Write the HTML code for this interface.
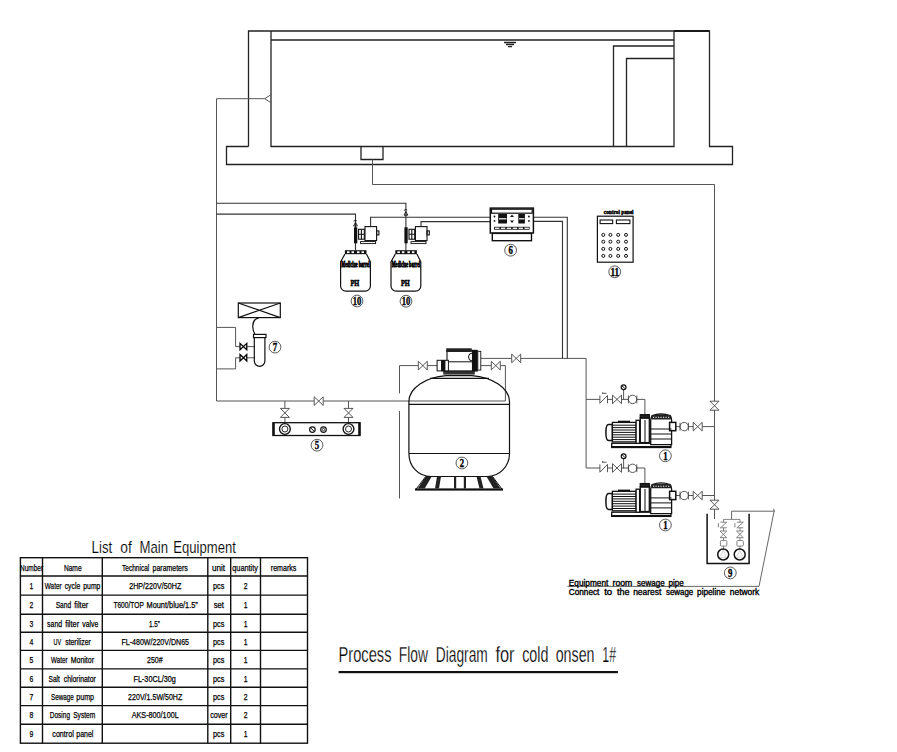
<!DOCTYPE html>
<html><head><meta charset="utf-8">
<style>
html,body{margin:0;padding:0;background:#fff;}
body{width:897px;height:752px;overflow:hidden;}
svg{display:block;}
text{font-family:"Liberation Sans",sans-serif;}
.ser, .ser text{font-family:"Liberation Serif",serif;font-weight:bold;}
</style></head>
<body>
<svg width="897" height="752" viewBox="0 0 897 752">
<defs>
  <path id="vh" d="M-4.5 -4.3L4.5 4.3V-4.3L-4.5 4.3Z"/>
  <path id="vv" d="M-4.5 -4.5H4.5L-4.5 4.5H4.5Z"/>
</defs>
<rect width="897" height="752" fill="#fff"/>

<!-- POOL -->
<g fill="none" stroke="#222" stroke-width="1.3">
  <path d="M674 31H709.5" stroke="#000" stroke-width="1.8"/>
  <path d="M248.5 146.5V31H709.5V146.5H732.5V164.5H226.5V146.5H248.5"/>
  <path d="M271 31V146.5H674V31"/>
  <path d="M271 40H674"/>
  <path d="M613.5 146.5V46H674M626.5 146.5V58.5H674"/>
  <path d="M361 146.5V159.5H383V146.5"/>
  <path d="M504 42.5H516M506 44.5H514M508 46.6H512"/>
</g>

<!-- PIPES thin -->
<g fill="none" stroke="#555" stroke-width="1">
  <path d="M271 94.7L264.7 98.7L271 102.7"/>
  <path d="M264.7 98.7H216.5V401H314.3M323.2 401H505.4V365.6H500.4M491.3 365.6H480.8"/>
  <path d="M372.5 159.5V184.5H714.5V401.4M714.5 410V500.3M714.5 509V519"/>
  <!-- filter left waste line -->
  <path d="M437 365.6H427.4M418.3 365.6H399.5V393.4M399.5 411V498.5"/>
  <!-- filter top outlet -->
  <path d="M480.8 358.4H511.7M520.7 358.4H586.1V468"/>
  <!-- UV branches -->
  <path d="M216.5 327.4H235.6V346.6H239.9M246.8 346.6H254.3"/>
  <path d="M216.5 368.9H235.6V357.8H239.9M246.8 357.8H254.3"/>
  <!-- chlorinator branches -->
  <path d="M284.9 401V408.4M284.9 417.3V422.7M348.5 401V408.4M348.5 417.3V422.7"/>
  <!-- pump branches -->
  <path d="M586.1 399.4H599.9M607.5 399.4H612.4M621.5 399.4H628.4M636.8 399.4H644.9V414.7"/>
  <path d="M586.1 468H599.9M607.5 468H612.4M621.5 468H628.4M636.8 468H644.9V483.3"/>
  <path d="M675.8 426.6H680M688.4 426.6H693.2M702.3 426.6H714.5"/>
  <path d="M675.8 495.5H680M688.4 495.5H693.2M702.3 495.5H714.5"/>
</g>
<!-- double lines (dosing) -->
<g fill="none" stroke="#333" stroke-width="1.1">
  <path d="M216.5 203.2H405.9V250.2"/>
  <path d="M216.5 214.1H355.5V250.2"/>
  <path d="M370.6 226.6V217.2H490.3M533.4 217.2H567.3V358.4"/>
  <path d="M421 226.6V221.6H490.3M533.4 221.4H562.5V358.4"/>
</g>

<!-- valves -->
<g fill="#fff" stroke="#444" stroke-width="0.9">
  <use href="#vh" x="318.7" y="401.1"/>
  <use href="#vv" x="284.9" y="412.9"/>
  <use href="#vv" x="348.5" y="412.9"/>
  <use href="#vh" x="422.8" y="365.6"/>
  <use href="#vh" x="495.8" y="365.6"/>
  <use href="#vh" x="516.2" y="358.4"/>
  <use href="#vv" x="714.5" y="405.7"/>
  <use href="#vv" x="714.5" y="504.7"/>
  <use href="#vh" x="617" y="399.4"/>
  <use href="#vh" x="617" y="468"/>
  <use href="#vh" x="697.7" y="426.6"/>
  <use href="#vh" x="697.7" y="495.5"/>
</g>
<g fill="#fff" stroke="#000" stroke-width="1.7">
  <use href="#vh" x="243.4" y="346.6" transform="translate(243.4 346.6) scale(0.75) translate(-243.4 -346.6)"/>
  <use href="#vh" x="243.4" y="357.8" transform="translate(243.4 357.8) scale(0.75) translate(-243.4 -357.8)"/>
</g>


<!-- DOSING TANKS -->
<g id="dose1">
  <g fill="none" stroke="#111" stroke-width="1.2">
    <path d="M344.9 254.1L340.6 261.8V286A5.2 5.2 0 0 0 345.8 291.2H365.2A5.2 5.2 0 0 0 370.4 286V261.8L366.5 254.1"/>
  </g>
  <rect x="344.9" y="250.2" width="21.6" height="4" fill="#111"/>
  <g fill="#fff"><rect x="347" y="251.3" width="2.5" height="1.8"/><rect x="351.5" y="251.3" width="2.5" height="1.8"/><rect x="357" y="251.3" width="2.5" height="1.8"/><rect x="361.5" y="251.3" width="2.5" height="1.8"/></g>
  <text x="355.5" y="266.8" font-size="8.5" font-weight="bold" text-anchor="middle" textLength="28.5" lengthAdjust="spacingAndGlyphs" class="ser" stroke="#000" stroke-width="0.9">Medicine barrel</text>
  <text x="354.9" y="285.8" font-size="8" font-weight="bold" text-anchor="middle" class="ser" textLength="8.8" lengthAdjust="spacingAndGlyphs" stroke="#000" stroke-width="0.6">PH</text>
  <!-- pump -->
  <rect x="354" y="227.3" width="3.3" height="16" fill="#111"/>
    <g fill="none" stroke="#111" stroke-width="1.1">
    <rect x="358.6" y="229.3" width="5.7" height="9.9"/>
    <path d="M361.4 229.3V239.2M358.6 234.2H364.3"/>
    <rect x="365" y="226.6" width="11.6" height="14"/>
    <rect x="376.6" y="230.9" width="2.3" height="4"/>
    <path d="M360.6 242.2H375.6"/>
  </g>
  <rect x="360.6" y="241.6" width="15" height="2" fill="#fff" stroke="#111" stroke-width="0.9"/>
</g>
<use href="#dose1" transform="translate(50.4 0)"/>
<g fill="none" stroke="#111" stroke-width="0.9">
  <path d="M353.6 226H357.4L355.5 222.3ZM354 221.5C353.6 220.5 354.8 219.8 356.8 220.8"/>
  <path d="M404 215.2H407.8L405.9 211.5ZM404.4 210.7C404 209.7 405.2 209 407.2 210"/>
</g>

<!-- CONTROLLER 6 -->
<g>
  <rect x="490.3" y="208.1" width="43.1" height="24.9" fill="#fff" stroke="#111" stroke-width="1.5"/>
  <rect x="491.5" y="209.2" width="40.7" height="4" fill="#fff" stroke="#111" stroke-width="1.2"/>
  <rect x="498.2" y="214" width="8.8" height="9.5" fill="#111"/>
  <rect x="518.3" y="214" width="6.6" height="9.5" fill="#111"/>
  <g fill="#fff"><rect x="499" y="218.2" width="7.5" height="1.2"/><rect x="519" y="218.2" width="5.5" height="1.2"/></g>
  <path d="M512 214.5l-2 2.5h4zM512 223l-2 -2.5h4z" fill="#111"/>
  <g fill="#111"><circle cx="494.5" cy="216.5" r="0.9"/><circle cx="494.5" cy="220.9" r="0.9"/><circle cx="528.9" cy="216.5" r="0.9"/><circle cx="528.9" cy="220.9" r="0.9"/></g>
  <rect x="494.1" y="226.8" width="35.5" height="2.9" fill="#111"/>
  <g fill="#fff"><rect x="495" y="227.6" width="4.4" height="1.3"/><rect x="500.9" y="227.6" width="4.4" height="1.3"/><rect x="506.8" y="227.6" width="4.4" height="1.3"/><rect x="512.7" y="227.6" width="4.4" height="1.3"/><rect x="518.6" y="227.6" width="4.4" height="1.3"/><rect x="524.5" y="227.6" width="4.4" height="1.3"/></g>
  <rect x="492.3" y="233.4" width="39.2" height="7.3" fill="#fff" stroke="#111" stroke-width="1.4"/>
</g>

<!-- CONTROL PANEL 11 -->
<g>
  <text x="618.7" y="214" font-size="6.5" font-weight="bold" text-anchor="middle" textLength="29.8" lengthAdjust="spacingAndGlyphs" class="ser" stroke="#000" stroke-width="0.5">control panel</text>
  <rect x="597.4" y="216.2" width="35.7" height="46" fill="#fff" stroke="#111" stroke-width="1.2"/>
  <rect x="600.1" y="220" width="12.6" height="3.6" fill="none" stroke="#111" stroke-width="1.1"/>
  <rect x="616.4" y="220" width="13.5" height="3.6" fill="none" stroke="#111" stroke-width="1.1"/>
  <g fill="none" stroke="#111" stroke-width="1">
    <circle cx="603.3" cy="234.9" r="1.5"/><circle cx="610.4" cy="234.9" r="1.5"/><circle cx="618.2" cy="234.9" r="1.5"/><circle cx="626" cy="234.9" r="1.5"/>
    <circle cx="603.3" cy="241.7" r="1.5"/><circle cx="610.4" cy="241.7" r="1.5"/><circle cx="618.2" cy="241.7" r="1.5"/><circle cx="626" cy="241.7" r="1.5"/>
    <circle cx="603.3" cy="248.9" r="1.5"/><circle cx="610.4" cy="248.9" r="1.5"/><circle cx="618.2" cy="248.9" r="1.5"/><circle cx="626" cy="248.9" r="1.5"/>
    <circle cx="603.3" cy="255.9" r="1.5"/><circle cx="610.4" cy="255.9" r="1.5"/><circle cx="618.2" cy="255.9" r="1.5"/><circle cx="626" cy="255.9" r="1.5"/>
  </g>
</g>

<!-- UV STERILIZER 7 -->
<g fill="none" stroke="#111" stroke-width="1.2">
  <rect x="238.3" y="303" width="42" height="14.6"/>
  <path d="M238.3 303L280.3 317.6M238.3 317.6L280.3 303"/>
  <path d="M259 317.6C254 319 252.5 323 252.8 327C253 331 254 333 255 334.4"/>
  <rect x="253.5" y="334.4" width="12.5" height="3.2"/>
  <path d="M254.3 337.6V361A5.3 5.3 0 0 0 264.9 361V337.6"/>
</g>

<!-- CHLORINATOR 5 -->
<g>
  <rect x="273" y="422.7" width="87" height="12.8" fill="#fff" stroke="#111" stroke-width="1.3"/>
  <rect x="272.5" y="422.5" width="2.3" height="13.2" fill="#111"/>
  <rect x="358.2" y="422.5" width="2.3" height="13.2" fill="#111"/>
  <g fill="none" stroke="#111">
    <circle cx="284.9" cy="429" r="5.4" stroke-width="1.4"/><circle cx="284.9" cy="429" r="3" stroke-width="0.9"/>
    <circle cx="348.5" cy="429" r="5.4" stroke-width="1.4"/><circle cx="348.5" cy="429" r="3" stroke-width="0.9"/>
    <circle cx="312.4" cy="429.6" r="2.8" stroke-width="1.2"/><path d="M310.5 427.7L314.3 431.5" stroke-width="1"/>
    <circle cx="323.5" cy="429.6" r="2.8" stroke-width="1.2"/><circle cx="323.5" cy="429.6" r="1.2" stroke-width="0.8"/>
  </g>
</g>

<!-- SAND FILTER 2 -->
<g fill="none" stroke="#111" stroke-width="1.2">
  <path d="M408.9 453.5V401.7C408.9 388 426 377 446 375.6H472C492 377 509.5 388 509.5 401.7V453.5"/>
  <path d="M430 378.4H489"/>
  <path d="M408.9 404.4H509.5M408.9 453.5H509.5"/>
  <path d="M408.9 453.5C408.9 466 418 476.5 431 476.5H487C500 476.5 509.5 466 509.5 453.5"/>
</g>
<g>
  <rect x="443.2" y="370.9" width="31.6" height="3.7" fill="#333"/>
  <rect x="447" y="350.5" width="25.5" height="20.4" fill="#fff" stroke="#111" stroke-width="1.1"/>
  <path d="M447 361.8H472.5" stroke="#111" stroke-width="1"/>
  <rect x="446.2" y="348.3" width="25.6" height="3.7" fill="#222"/>
  <path d="M472.5 353A4 4 0 0 0 472.5 361" fill="none" stroke="#111" stroke-width="1"/>
  <rect x="437.1" y="360.3" width="11.3" height="10.6" fill="#fff" stroke="#111" stroke-width="1"/>
  <rect x="441" y="360" width="4.4" height="11.2" fill="#111"/>
  <rect x="472.5" y="349.8" width="5.3" height="21.8" fill="#111"/>
  <rect x="477.8" y="351.3" width="3" height="18.8" fill="#fff" stroke="#111" stroke-width="0.9"/>
  <!-- base -->
  <path d="M425.7 476.5H492.5L502.3 489.5H415.9Z" fill="#fff" stroke="#111" stroke-width="1"/>
  <rect x="415" y="488.4" width="88" height="2.2" fill="#111"/>
  <g fill="#222">
    <path d="M425.7 476.5h6l-7 12h-7z"/><path d="M437 476.5h4l-2 12h-4z"/>
    <path d="M454 476.5h2.2v12h-2.2zM463.8 476.5h2.2v12h-2.2z"/>
    <path d="M476.5 476.5h4l3 12h-4z"/><path d="M486.5 476.5h6l8 12h-7z"/>
  </g>
</g>

<!-- PUMPS 1 -->
<g id="pump1">
  <g fill="none" stroke="#444" stroke-width="0.9">
    <path d="M599.9 395.5V403.3M607.5 395.5V403.3M599.9 403.3L607.5 395.5M602 393.3H606.5M602 393.3l1.2 -0.8"/>
    <path d="M623.6 389.7V399.4"/>
    <circle cx="632.6" cy="399.4" r="4.2"/><path d="M628.4 395.5V403.3M636.8 395.5V403.3"/>
    <circle cx="684.2" cy="426.6" r="4.2"/><path d="M680 422.7V430.5M688.4 422.7V430.5"/>
  </g>
  <circle cx="623.6" cy="387.3" r="2.4" fill="#fff" stroke="#111" stroke-width="1.2"/>
  <path d="M622.3 386L624.9 388.6" stroke="#111" stroke-width="1"/>
  <g fill="#fff" stroke="#111" stroke-width="1.3">
    <rect x="611.7" y="443.3" width="59.2" height="4.2"/>
    <path d="M612.4 424.5H608.5C606.3 424.5 605.9 428 605.9 432.5S606.3 440.5 608.5 440.5H612.4Z" stroke-width="1.5"/>
    <rect x="612.4" y="422.4" width="23.7" height="19.5"/>
    <rect x="636.1" y="420.3" width="3.5" height="23"/>
    <rect x="640.3" y="418" width="9" height="24.6"/>
    <rect x="640.3" y="414.7" width="9" height="3.3" fill="#222"/>
    <path d="M650.7 444.7V420C650.7 416 655 414 661 414S671.6 416 671.6 420V444.7Z"/>
    <rect x="669.6" y="422.4" width="6.2" height="8.3" stroke-width="1.5"/>
  </g>
  <g stroke="#111" stroke-width="1" fill="none">
    <path d="M612.4 425.2H636M612.4 427.6H636M612.4 430H636M612.4 432.4H636M612.4 434.8H636M612.4 437.2H636M612.4 439.6H636"/>
    <path d="M650.7 429H671.6M650.7 434H671.6M650.7 439H671.6"/>
    <path d="M645 420V442"/>
    <path d="M618 421.5H630" stroke-width="1.6"/>
  </g>
  <rect x="651" y="414.8" width="20.3" height="4.6" rx="1.5" fill="#222"/>
  <path d="M653 417.3H670" stroke="#fff" stroke-width="1" stroke-dasharray="1.2 1.3"/>
  <path d="M611.7 446.8H670.9" stroke="#111" stroke-width="1.5"/>
</g>
<use href="#pump1" transform="translate(0 68.9)"/>

<!-- SEWAGE PIT 9 -->
<g fill="none" stroke="#111" stroke-width="1.5">
  <path d="M707.1 513.8V563.5H749.1V513.8"/>
</g>
<g fill="none" stroke="#555" stroke-width="0.9">
  <path d="M731.6 519.4V511.2H774.1L759 586.4H567.4"/>
  <path d="M773.5 508.8L774.6 511.5"/>
</g>
<g id="spump" fill="none" stroke="#777" stroke-width="0.9">
  <path d="M723.5 519.4V522.2M723.5 527.8V531M723.5 537.7V540.5M723.5 546.1V549"/>
  <path d="M720.4 522.2H726.8L720.4 527.8H726.8M718.4 523V527.4"/>
  <path d="M720 531H726.8L720 537.7H726.8Z" fill="#fff"/>
  <rect x="720.4" y="540.5" width="6.4" height="5.6" rx="1" fill="#fff"/>
  <path d="M719 557.3H728M720.5 556L723.2 550.5L726 556" stroke="#ccc"/>
</g>
<use href="#spump" transform="translate(16.5 0)"/>
<path d="M723.5 519.4H740" fill="none" stroke="#777" stroke-width="0.9"/>
<g fill="none" stroke="#111" stroke-width="1.5">
  <circle cx="723.2" cy="554.5" r="5.5"/><circle cx="739.7" cy="554.5" r="5.5"/>
</g>

<!-- TEXTS -->
<text x="568.8" y="585.6" font-size="8.4" textLength="39.5" lengthAdjust="spacingAndGlyphs" fill="#000" stroke="#000" stroke-width="0.35">Equipment</text>
<text x="612.5" y="585.6" font-size="8.4" textLength="19.8" lengthAdjust="spacingAndGlyphs" fill="#000" stroke="#000" stroke-width="0.35">room</text>
<text x="637.1" y="585.6" font-size="8.4" textLength="27.5" lengthAdjust="spacingAndGlyphs" fill="#000" stroke="#000" stroke-width="0.35">sewage</text>
<text x="668.4" y="585.6" font-size="8.4" textLength="15.4" lengthAdjust="spacingAndGlyphs" fill="#000" stroke="#000" stroke-width="0.35">pipe</text>
<text x="568.8" y="594.8" font-size="8.4" textLength="30.6" lengthAdjust="spacingAndGlyphs" fill="#000" stroke="#000" stroke-width="0.35">Connect</text>
<text x="604.2" y="594.8" font-size="8.4" textLength="8.0" lengthAdjust="spacingAndGlyphs" fill="#000" stroke="#000" stroke-width="0.35">to</text>
<text x="617.0" y="594.8" font-size="8.4" textLength="12.5" lengthAdjust="spacingAndGlyphs" fill="#000" stroke="#000" stroke-width="0.35">the</text>
<text x="633.2" y="594.8" font-size="8.4" textLength="28.1" lengthAdjust="spacingAndGlyphs" fill="#000" stroke="#000" stroke-width="0.35">nearest</text>
<text x="666.0" y="594.8" font-size="8.4" textLength="27.2" lengthAdjust="spacingAndGlyphs" fill="#000" stroke="#000" stroke-width="0.35">sewage</text>
<text x="697.1" y="594.8" font-size="8.4" textLength="28.3" lengthAdjust="spacingAndGlyphs" fill="#000" stroke="#000" stroke-width="0.35">pipeline</text>
<text x="729.8" y="594.8" font-size="8.4" textLength="29.5" lengthAdjust="spacingAndGlyphs" fill="#000" stroke="#000" stroke-width="0.35">network</text>
<text x="338.5" y="661.6" font-size="22.6" textLength="53.0" lengthAdjust="spacingAndGlyphs" fill="#000" stroke="#fff" stroke-width="0.25">Process</text>
<text x="398.7" y="661.6" font-size="22.6" textLength="29.2" lengthAdjust="spacingAndGlyphs" fill="#000" stroke="#fff" stroke-width="0.25">Flow</text>
<text x="435.8" y="661.6" font-size="22.6" textLength="52.0" lengthAdjust="spacingAndGlyphs" fill="#000" stroke="#fff" stroke-width="0.25">Diagram</text>
<text x="495.4" y="661.6" font-size="22.6" textLength="19.2" lengthAdjust="spacingAndGlyphs" fill="#000" stroke="#fff" stroke-width="0.25">for</text>
<text x="522.2" y="661.6" font-size="22.6" textLength="26.3" lengthAdjust="spacingAndGlyphs" fill="#000" stroke="#fff" stroke-width="0.25">cold</text>
<text x="555.7" y="661.6" font-size="22.6" textLength="38.8" lengthAdjust="spacingAndGlyphs" fill="#000" stroke="#fff" stroke-width="0.25">onsen</text>
<text x="602.3" y="661.6" font-size="22.6" textLength="13.7" lengthAdjust="spacingAndGlyphs" fill="#000" stroke="#fff" stroke-width="0.25">1#</text>
<text x="91.6" y="552.7" font-size="16.2" textLength="20.6" lengthAdjust="spacingAndGlyphs" fill="#000" stroke="#fff" stroke-width="0.15">List</text>
<text x="120.3" y="552.7" font-size="16.2" textLength="11.5" lengthAdjust="spacingAndGlyphs" fill="#000" stroke="#fff" stroke-width="0.15">of</text>
<text x="139.5" y="552.7" font-size="16.2" textLength="28.6" lengthAdjust="spacingAndGlyphs" fill="#000" stroke="#fff" stroke-width="0.15">Main</text>
<text x="173.3" y="552.7" font-size="16.2" textLength="62.6" lengthAdjust="spacingAndGlyphs" fill="#000" stroke="#fff" stroke-width="0.15">Equipment</text>
<rect x="338.6" y="671" width="279.3" height="2.2" fill="#111"/>

<!-- TABLE -->
<g fill="none" stroke="#111" stroke-width="1.4">
<rect x="20.4" y="557.7" width="287.1" height="185.5"/>
<path d="M20.4 576H307.5M20.4 595.1H307.5M20.4 614.3H307.5M20.4 632.2H307.5M20.4 650.4H307.5M20.4 668.9H307.5M20.4 687.3H307.5M20.4 705.6H307.5M20.4 724.3H307.5M42.5 557.7V743.2M102.3 557.7V743.2M207.8 557.7V743.2M230.7 557.7V743.2M260.5 557.7V743.2"/>
</g>
<g fill="#000" font-size="8.8" stroke="#000" stroke-width="0.25">
<text x="20.0" y="570.5" textLength="23.1" lengthAdjust="spacingAndGlyphs">Number</text>
<text x="63.9" y="570.5" textLength="17.7" lengthAdjust="spacingAndGlyphs">Name</text>
<text x="122.0" y="570.5" textLength="27.3" lengthAdjust="spacingAndGlyphs">Technical</text>
<text x="152.6" y="570.5" textLength="35.2" lengthAdjust="spacingAndGlyphs">parameters</text>
<text x="212.0" y="570.5" textLength="13.1" lengthAdjust="spacingAndGlyphs">unit</text>
<text x="232.3" y="570.5" textLength="25.6" lengthAdjust="spacingAndGlyphs">quantity</text>
<text x="270.8" y="570.5" textLength="25.6" lengthAdjust="spacingAndGlyphs">remarks</text>
<text x="31.4" y="588.8" text-anchor="middle" textLength="3.8" lengthAdjust="spacingAndGlyphs">1</text>
<text x="44.8" y="588.8" textLength="16.8" lengthAdjust="spacingAndGlyphs">Water</text>
<text x="64.7" y="588.8" textLength="15.5" lengthAdjust="spacingAndGlyphs">cycle</text>
<text x="83.3" y="588.8" textLength="17.1" lengthAdjust="spacingAndGlyphs">pump</text>
<text x="129.2" y="588.8" textLength="52.1" lengthAdjust="spacingAndGlyphs">2HP/220V/50HZ</text>
<text x="213.0" y="588.8" textLength="11.3" lengthAdjust="spacingAndGlyphs">pcs</text>
<text x="245.6" y="588.8" text-anchor="middle" textLength="3.8" lengthAdjust="spacingAndGlyphs">2</text>
<text x="31.4" y="607.9" text-anchor="middle" textLength="3.8" lengthAdjust="spacingAndGlyphs">2</text>
<text x="55.7" y="607.9" textLength="15.5" lengthAdjust="spacingAndGlyphs">Sand</text>
<text x="74.3" y="607.9" textLength="13.9" lengthAdjust="spacingAndGlyphs">filter</text>
<text x="113.4" y="607.9" textLength="30.4" lengthAdjust="spacingAndGlyphs">T600/TOP</text>
<text x="146.5" y="607.9" textLength="51.3" lengthAdjust="spacingAndGlyphs">Mount/blue/1.5”</text>
<text x="213.7" y="607.9" textLength="10.3" lengthAdjust="spacingAndGlyphs">set</text>
<text x="245.6" y="607.9" text-anchor="middle" textLength="3.8" lengthAdjust="spacingAndGlyphs">1</text>
<text x="31.4" y="627.1" text-anchor="middle" textLength="3.8" lengthAdjust="spacingAndGlyphs">3</text>
<text x="47.1" y="627.1" textLength="15.0" lengthAdjust="spacingAndGlyphs">sand</text>
<text x="65.2" y="627.1" textLength="13.9" lengthAdjust="spacingAndGlyphs">filter</text>
<text x="82.3" y="627.1" textLength="16.0" lengthAdjust="spacingAndGlyphs">valve</text>
<text x="149.1" y="627.1" textLength="10.8" lengthAdjust="spacingAndGlyphs">1.5”</text>
<text x="213.0" y="627.1" textLength="11.3" lengthAdjust="spacingAndGlyphs">pcs</text>
<text x="245.6" y="627.1" text-anchor="middle" textLength="3.8" lengthAdjust="spacingAndGlyphs">1</text>
<text x="31.4" y="645.0" text-anchor="middle" textLength="3.8" lengthAdjust="spacingAndGlyphs">4</text>
<text x="53.5" y="645.0" textLength="7.5" lengthAdjust="spacingAndGlyphs">UV</text>
<text x="65.2" y="645.0" textLength="25.6" lengthAdjust="spacingAndGlyphs">sterilizer</text>
<text x="121.5" y="645.0" textLength="67.5" lengthAdjust="spacingAndGlyphs">FL-480W/220V/DN65</text>
<text x="213.0" y="645.0" textLength="11.3" lengthAdjust="spacingAndGlyphs">pcs</text>
<text x="245.6" y="645.0" text-anchor="middle" textLength="3.8" lengthAdjust="spacingAndGlyphs">1</text>
<text x="31.4" y="663.2" text-anchor="middle" textLength="3.8" lengthAdjust="spacingAndGlyphs">5</text>
<text x="51.1" y="663.2" textLength="16.4" lengthAdjust="spacingAndGlyphs">Water</text>
<text x="70.7" y="663.2" textLength="23.3" lengthAdjust="spacingAndGlyphs">Monitor</text>
<text x="147.0" y="663.2" textLength="15.6" lengthAdjust="spacingAndGlyphs">250#</text>
<text x="213.0" y="663.2" textLength="11.3" lengthAdjust="spacingAndGlyphs">pcs</text>
<text x="245.6" y="663.2" text-anchor="middle" textLength="3.8" lengthAdjust="spacingAndGlyphs">1</text>
<text x="31.4" y="681.7" text-anchor="middle" textLength="3.8" lengthAdjust="spacingAndGlyphs">6</text>
<text x="48.5" y="681.7" textLength="11.4" lengthAdjust="spacingAndGlyphs">Salt</text>
<text x="63.7" y="681.7" textLength="32.2" lengthAdjust="spacingAndGlyphs">chlorinator</text>
<text x="133.5" y="681.7" textLength="42.3" lengthAdjust="spacingAndGlyphs">FL-30CL/30g</text>
<text x="213.0" y="681.7" textLength="11.3" lengthAdjust="spacingAndGlyphs">pcs</text>
<text x="245.6" y="681.7" text-anchor="middle" textLength="3.8" lengthAdjust="spacingAndGlyphs">1</text>
<text x="31.4" y="700.1" text-anchor="middle" textLength="3.8" lengthAdjust="spacingAndGlyphs">7</text>
<text x="51.1" y="700.1" textLength="22.7" lengthAdjust="spacingAndGlyphs">Sewage</text>
<text x="76.3" y="700.1" textLength="17.7" lengthAdjust="spacingAndGlyphs">pump</text>
<text x="128.1" y="700.1" textLength="54.2" lengthAdjust="spacingAndGlyphs">220V/1.5W/50HZ</text>
<text x="213.0" y="700.1" textLength="11.3" lengthAdjust="spacingAndGlyphs">pcs</text>
<text x="245.6" y="700.1" text-anchor="middle" textLength="3.8" lengthAdjust="spacingAndGlyphs">2</text>
<text x="31.4" y="718.4" text-anchor="middle" textLength="3.8" lengthAdjust="spacingAndGlyphs">8</text>
<text x="49.8" y="718.4" textLength="20.2" lengthAdjust="spacingAndGlyphs">Dosing</text>
<text x="73.2" y="718.4" textLength="22.1" lengthAdjust="spacingAndGlyphs">System</text>
<text x="131.7" y="718.4" textLength="47.0" lengthAdjust="spacingAndGlyphs">AKS-800/100L</text>
<text x="210.2" y="718.4" textLength="17.4" lengthAdjust="spacingAndGlyphs">cover</text>
<text x="245.6" y="718.4" text-anchor="middle" textLength="3.8" lengthAdjust="spacingAndGlyphs">2</text>
<text x="31.4" y="737.1" text-anchor="middle" textLength="3.8" lengthAdjust="spacingAndGlyphs">9</text>
<text x="52.3" y="737.1" textLength="21.5" lengthAdjust="spacingAndGlyphs">control</text>
<text x="76.3" y="737.1" textLength="17.1" lengthAdjust="spacingAndGlyphs">panel</text>
<text x="213.0" y="737.1" textLength="11.3" lengthAdjust="spacingAndGlyphs">pcs</text>
<text x="245.6" y="737.1" text-anchor="middle" textLength="3.8" lengthAdjust="spacingAndGlyphs">1</text>
</g>

<!-- labels -->
<g fill="none" stroke="#333" stroke-width="0.8">
  <circle cx="357" cy="301" r="5.9"/>
  <circle cx="406" cy="301.2" r="5.9"/>
  <circle cx="510.6" cy="250.2" r="5.9"/>
  <circle cx="614.7" cy="271.8" r="5.9"/>
  <circle cx="275" cy="347.1" r="5.9"/>
  <circle cx="317" cy="445.2" r="5.9"/>
  <circle cx="461.9" cy="463" r="5.9"/>
  <circle cx="665.4" cy="455.8" r="5.9"/>
  <circle cx="665.4" cy="525" r="5.9"/>
  <circle cx="730.3" cy="572.9" r="5.9"/>
</g>
<g class="ser" fill="#000" font-size="11.8" text-anchor="middle" stroke="#000" stroke-width="0.35">
  <text x="357" y="305.0" textLength="8.6" lengthAdjust="spacingAndGlyphs">10</text>
  <text x="406" y="305.2" textLength="8.6" lengthAdjust="spacingAndGlyphs">10</text>
  <text x="510.6" y="254.2" textLength="4.4" lengthAdjust="spacingAndGlyphs">6</text>
  <text x="614.7" y="275.8" textLength="8.6" lengthAdjust="spacingAndGlyphs">11</text>
  <text x="275" y="351.1" textLength="4.4" lengthAdjust="spacingAndGlyphs">7</text>
  <text x="317" y="449.2" textLength="4.4" lengthAdjust="spacingAndGlyphs">5</text>
  <text x="461.9" y="467.0" textLength="4.4" lengthAdjust="spacingAndGlyphs">2</text>
  <text x="665.4" y="459.8" textLength="4.4" lengthAdjust="spacingAndGlyphs">1</text>
  <text x="665.4" y="529.0" textLength="4.4" lengthAdjust="spacingAndGlyphs">1</text>
  <text x="730.3" y="576.9" textLength="4.4" lengthAdjust="spacingAndGlyphs">9</text>
</g>
</svg>
</body></html>
